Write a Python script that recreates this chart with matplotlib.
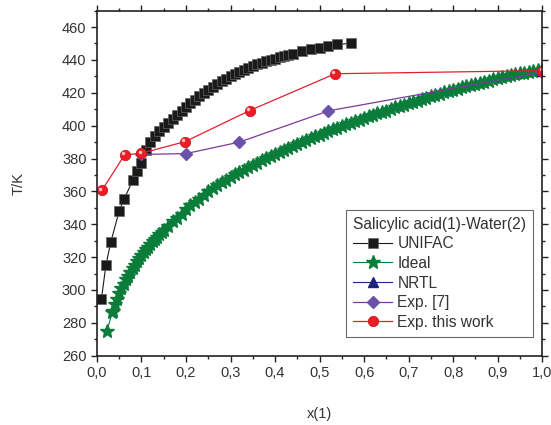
import matplotlib
matplotlib.use('Agg')
import matplotlib.pyplot as plt
import matplotlib.transforms as mtransforms
from matplotlib.ticker import MultipleLocator, FuncFormatter

plt.rcParams['font.family'] = ['Liberation Sans', 'DejaVu Sans']

# datos
x_unifac = [0.010, 0.020, 0.031, 0.050, 0.061, 0.081, 0.091, 0.10, 0.11, 0.12, 0.13,
            0.14, 0.15, 0.16, 0.17, 0.18, 0.19, 0.20, 0.21, 0.22, 0.23, 0.24, 0.25,
            0.26, 0.27, 0.28, 0.29, 0.30, 0.31, 0.32, 0.33, 0.34, 0.35, 0.36, 0.37,
            0.38, 0.39, 0.40, 0.41, 0.42, 0.43, 0.44, 0.46, 0.48, 0.50, 0.52, 0.54, 0.57]
T_unifac = [294.4, 315.1, 329.1, 348.2, 355.3, 367.1, 372.6, 377.5, 385.0, 390.0, 393.5,
            396.5, 399.0, 401.8, 404.3, 406.7, 409.0, 411.3, 413.5, 415.7, 417.8, 419.8, 421.8,
            423.6, 425.4, 427.1, 428.6, 430.0, 431.4, 432.7, 434.0, 435.2, 436.3, 437.3, 438.2,
            439.1, 440.0, 440.8, 441.6, 442.4, 443.1, 443.8, 445.2, 446.4, 447.4, 448.4, 449.4, 450.1]

x_ideal = [0.0225, 0.034, 0.035, 0.040, 0.045, 0.050, 0.055, 0.060, 0.065, 0.070, 0.075,
           0.080, 0.085, 0.090, 0.095, 0.100, 0.105, 0.110, 0.115, 0.120, 0.125, 0.130,
           0.135, 0.140, 0.145, 0.150, 0.16, 0.17, 0.18, 0.19, 0.20, 0.21, 0.22, 0.23,
           0.24, 0.25, 0.26, 0.27, 0.28, 0.29, 0.30, 0.31, 0.32, 0.33, 0.34, 0.35, 0.36,
           0.37, 0.38, 0.39, 0.40, 0.41, 0.42, 0.43, 0.44, 0.45, 0.46, 0.47, 0.48, 0.49,
           0.50, 0.51, 0.52, 0.53, 0.54, 0.55, 0.56, 0.57, 0.58, 0.59, 0.60, 0.61, 0.62,
           0.63, 0.64, 0.65, 0.66, 0.67, 0.68, 0.69, 0.70, 0.71, 0.72, 0.73, 0.74, 0.75,
           0.76, 0.77, 0.78, 0.79, 0.80, 0.81, 0.82, 0.83, 0.84, 0.85, 0.86, 0.87, 0.88,
           0.89, 0.90, 0.91, 0.92, 0.93, 0.94, 0.95, 0.96, 0.97, 0.98, 0.99, 1.00]
T_ideal = [275.0, 286.4, 287.2, 291.2, 294.7, 297.9, 301.0, 303.8, 306.4, 308.8, 311.2,
           313.4, 315.5, 317.5, 319.4, 321.3, 323.0, 324.8, 326.4, 328.0, 329.6, 331.1,
           332.5, 333.9, 335.3, 336.7, 339.2, 341.7, 344.1, 346.3, 349.5, 351.6, 353.6, 355.6,
           357.5, 360.3, 362.1, 363.8, 365.5, 367.1, 368.7, 370.3, 371.8, 373.3, 374.7, 376.1, 377.5,
           378.9, 380.2, 381.5, 382.8, 384.1, 385.3, 386.5, 387.7, 388.9, 390.0, 391.2, 392.3, 393.5,
           394.5, 395.6, 396.7, 397.7, 398.8, 399.8, 400.8, 401.8, 402.7, 403.7, 404.6, 405.6, 406.5,
           407.4, 408.4, 409.2, 410.1, 411.1, 411.9, 412.8, 413.6, 414.5, 415.3, 416.1, 417.0, 417.8,
           418.6, 419.4, 420.2, 420.9, 421.7, 422.5, 423.3, 424.0, 424.8, 425.5, 426.1, 426.8, 427.4,
           428.1, 428.8, 429.4, 430.0, 430.6, 431.2, 431.8, 432.3, 432.8, 433.3, 433.7, 434.0]

x_nrtl = [1.0]
T_nrtl = [433.0]

x_exp7 = [0.10, 0.20, 0.32, 0.52, 1.0]
T_exp7 = [382.5, 383.0, 390.0, 409.0, 432.5]

x_exp = [0.011, 0.062, 0.10, 0.198, 0.343, 0.535, 1.0]
T_exp = [360.6, 382.2, 383.2, 390.3, 409.2, 431.6, 433.5]

fig = plt.figure(figsize=(5.51, 4.25), dpi=100)
ax = fig.add_axes([0.176, 0.163, 0.808, 0.812])

ax.plot(x_unifac, T_unifac, '-', color='#1a1a1a', lw=0.8, marker='s', ms=6.5,
        mfc='#1a1a1a', mec='#666666', mew=0.5, label='UNIFAC')
ax.plot(x_ideal, T_ideal, '-', color='#0b7d3b', lw=0.8, marker='*', ms=10,
        mfc='#0b7d3b', mec='#0b7d3b', label='Ideal')
ax.plot(x_nrtl, T_nrtl, '-', color='#1f2480', lw=0.8, marker='^', ms=7,
        mfc='#1f2480', mec='#1f2480', label='NRTL')
ax.plot(x_exp7, T_exp7, '-', color='#7b3a98', lw=0.9, marker='D', ms=6.5,
        mfc='#6a52a8', mec='#6a52a8', label='Exp. [7]')
ax.plot(x_exp, T_exp, '-', color='#e0202e', lw=0.9, marker='o', ms=7.5,
        mfc='#ee1c24', mec='#c8101c', mew=0.5, label='Exp. this work')
# brillo de las esferas rojas
brillo = mtransforms.offset_copy(ax.transData, fig=fig, x=-1.2, y=1.2, units='points')
ax.plot(x_exp, T_exp, 'o', ms=2.5, color='#ffc0c0', mec='none', transform=brillo)

ax.set_xlim(0, 1.0)
ax.set_ylim(260, 470)
ax.xaxis.set_major_locator(MultipleLocator(0.1))
ax.xaxis.set_minor_locator(MultipleLocator(0.05))
ax.yaxis.set_minor_locator(MultipleLocator(10))
ax.xaxis.set_major_formatter(FuncFormatter(lambda v, p: f'{v:.1f}'.replace('.', ',')))
ax.set_yticks([260, 280, 300, 320, 340, 360, 380, 400, 420, 440, 460])

ax.tick_params(which='both', direction='out', top=True, right=True,
               labeltop=False, labelright=False, colors='#222222', labelcolor='#333333',
               labelsize=10.5)
ax.tick_params(which='major', length=4, width=1)
ax.tick_params(which='minor', length=2.5, width=1)
for s in ax.spines.values():
    s.set_linewidth(1.2)
    s.set_color('#222222')

ax.set_xlabel('x(1)', fontsize=10.5, color='#333333', labelpad=19)
ax.set_ylabel('T/K', fontsize=10.5, color='#333333', labelpad=26)

leg = ax.legend(title='Salicylic acid(1)-Water(2)', loc='lower right',
                bbox_to_anchor=(0.997, 0.032), fontsize=11.2, title_fontsize=11.2,
                frameon=True, fancybox=False, edgecolor='#444444',
                handlelength=2.5, handletextpad=0.35, labelspacing=0.3,
                borderpad=0.45, alignment='left')
leg.get_frame().set_linewidth(0.8)
leg.get_title().set_color('#333333')
for t in leg.get_texts():
    t.set_color('#333333')

fig.savefig('out.png', dpi=100)
